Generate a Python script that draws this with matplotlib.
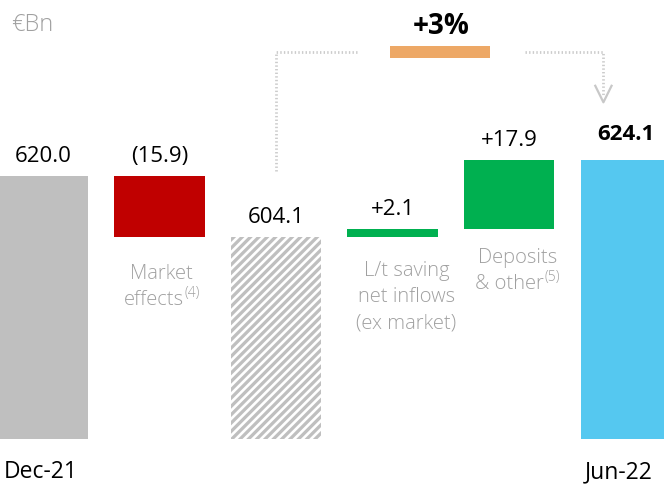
import matplotlib.pyplot as plt
from matplotlib.patches import Rectangle

# Данные водопада, €Bn
labels = ["Dec-21", "Market\neffects", "", "L/t saving\nnet inflows\n(ex market)",
          "Deposits\n& other", "Jun-22"]
superscripts = ["", "(4)", "", "", "(5)", ""]
start_value = 620.0
changes = [-15.9, 2.1, 17.9]
value_texts = ["620.0", "(15.9)", "604.1", "+2.1", "+17.9", "624.1"]
growth_text = "+3%"
base = 551.5

GREY = "#bfbfbf"
RED = "#c00000"
GREEN = "#00b050"
BLUE = "#55c8f0"
ORANGE = "#eda866"
LABEL_GREY = "#a0a0a0"
FONT = ["Open Sans", "DejaVu Sans"]

subtotal = start_value + changes[0]
end_value = subtotal + changes[1] + changes[2]

# (низ, верх, цвет) для каждого столбца
bars = [
    (base, start_value, GREY),
    (subtotal, start_value, RED),
    (base, subtotal, "hatch"),
    (subtotal, subtotal + changes[1], GREEN),
    (subtotal + changes[1], end_value, GREEN),
    (base, end_value, BLUE),
]

fig = plt.figure(figsize=(6.64, 4.85), dpi=100)
ax = fig.add_axes([0, 0, 1, 1])
ax.set_xlim(-0.369, 5.33)
ax.set_ylim(539.8, 666.1)
ax.axis("off")
renderer = fig.canvas.get_renderer()

px = (666.1 - 539.8) / 485  # значение на один пиксель по вертикали
width = 0.773

for i, (lo, hi, color) in enumerate(bars):
    if color == "hatch":
        plt.rcParams["hatch.linewidth"] = 1.9
        ax.add_patch(Rectangle((i - width / 2, lo), width, hi - lo,
                               facecolor=GREY, edgecolor="white", linewidth=0,
                               hatch="////"))
    else:
        ax.bar(i, hi - lo, bottom=lo, width=width, color=color)

    bold = i == 5
    ax.text(i, hi + (21 if bold else 15) * px, value_texts[i], ha="center",
            va="baseline", fontsize=16, family=FONT,
            fontweight="bold" if bold else "normal", color="black")

# Подписи категорий под столбцами-изменениями, построчно
# (сдвиг по x, отступ первой строки от низа столбца в пикселях)
label_pos = {1: (0.02, 41), 3: (0.12, 38), 4: (0.07, 33)}
for i, (dx, gap) in label_pos.items():
    lo = bars[i][0]
    lines = labels[i].split("\n")
    for k, line in enumerate(lines):
        y = lo - (gap + 26 * k) * px
        last = k == len(lines) - 1 and superscripts[i]
        shift = 0.07 if last else 0
        t = ax.text(i + dx - shift, y, line, ha="center", va="baseline",
                    fontsize=14.5, family=FONT, fontweight="light",
                    color=LABEL_GREY)
        if last:
            bb = t.get_window_extent(renderer)
            x_end = ax.transData.inverted().transform((bb.x1 + 1, bb.y0))[0]
            ax.text(x_end, y + 8 * px, superscripts[i], ha="left",
                    va="baseline", fontsize=10, family=FONT,
                    fontweight="light", color=LABEL_GREY)

# Подписи дат
for i, dx in ((0, -0.02), (5, -0.06)):
    ax.text(i + dx, base - 32 * px, labels[i], ha="center", va="center",
            fontsize=16.5, family=FONT, color="black")

ax.text(-0.27, 659.6, "€Bn", ha="left", va="center", fontsize=17,
        family=FONT, fontweight="light", color=LABEL_GREY)

# Рост за период: стрелка и оранжевая полоса
y_line = 652.3
dot = dict(color="#cccccc", linewidth=2.0, linestyle=(0, (0.5, 0.8)),
           solid_capstyle="butt")
ax.plot([2.0, 2.0, 2.70], [621.3, y_line, y_line], **dot)
ax.plot([4.137, 4.81, 4.81], [y_line, y_line, 641.0], **dot)
ax.plot([4.74, 4.81, 4.88], [643.5, 639.2, 643.5], color="#c8c8c8",
        linewidth=1.6)
ax.add_patch(Rectangle((2.98, 650.7), 0.86, 3.1, facecolor=ORANGE,
                       edgecolor="none"))
ax.text(3.42, 659.2, growth_text, ha="center", va="center", fontsize=20,
        family=FONT, fontweight="bold", color="black")

fig.savefig("out.png", dpi=100)
